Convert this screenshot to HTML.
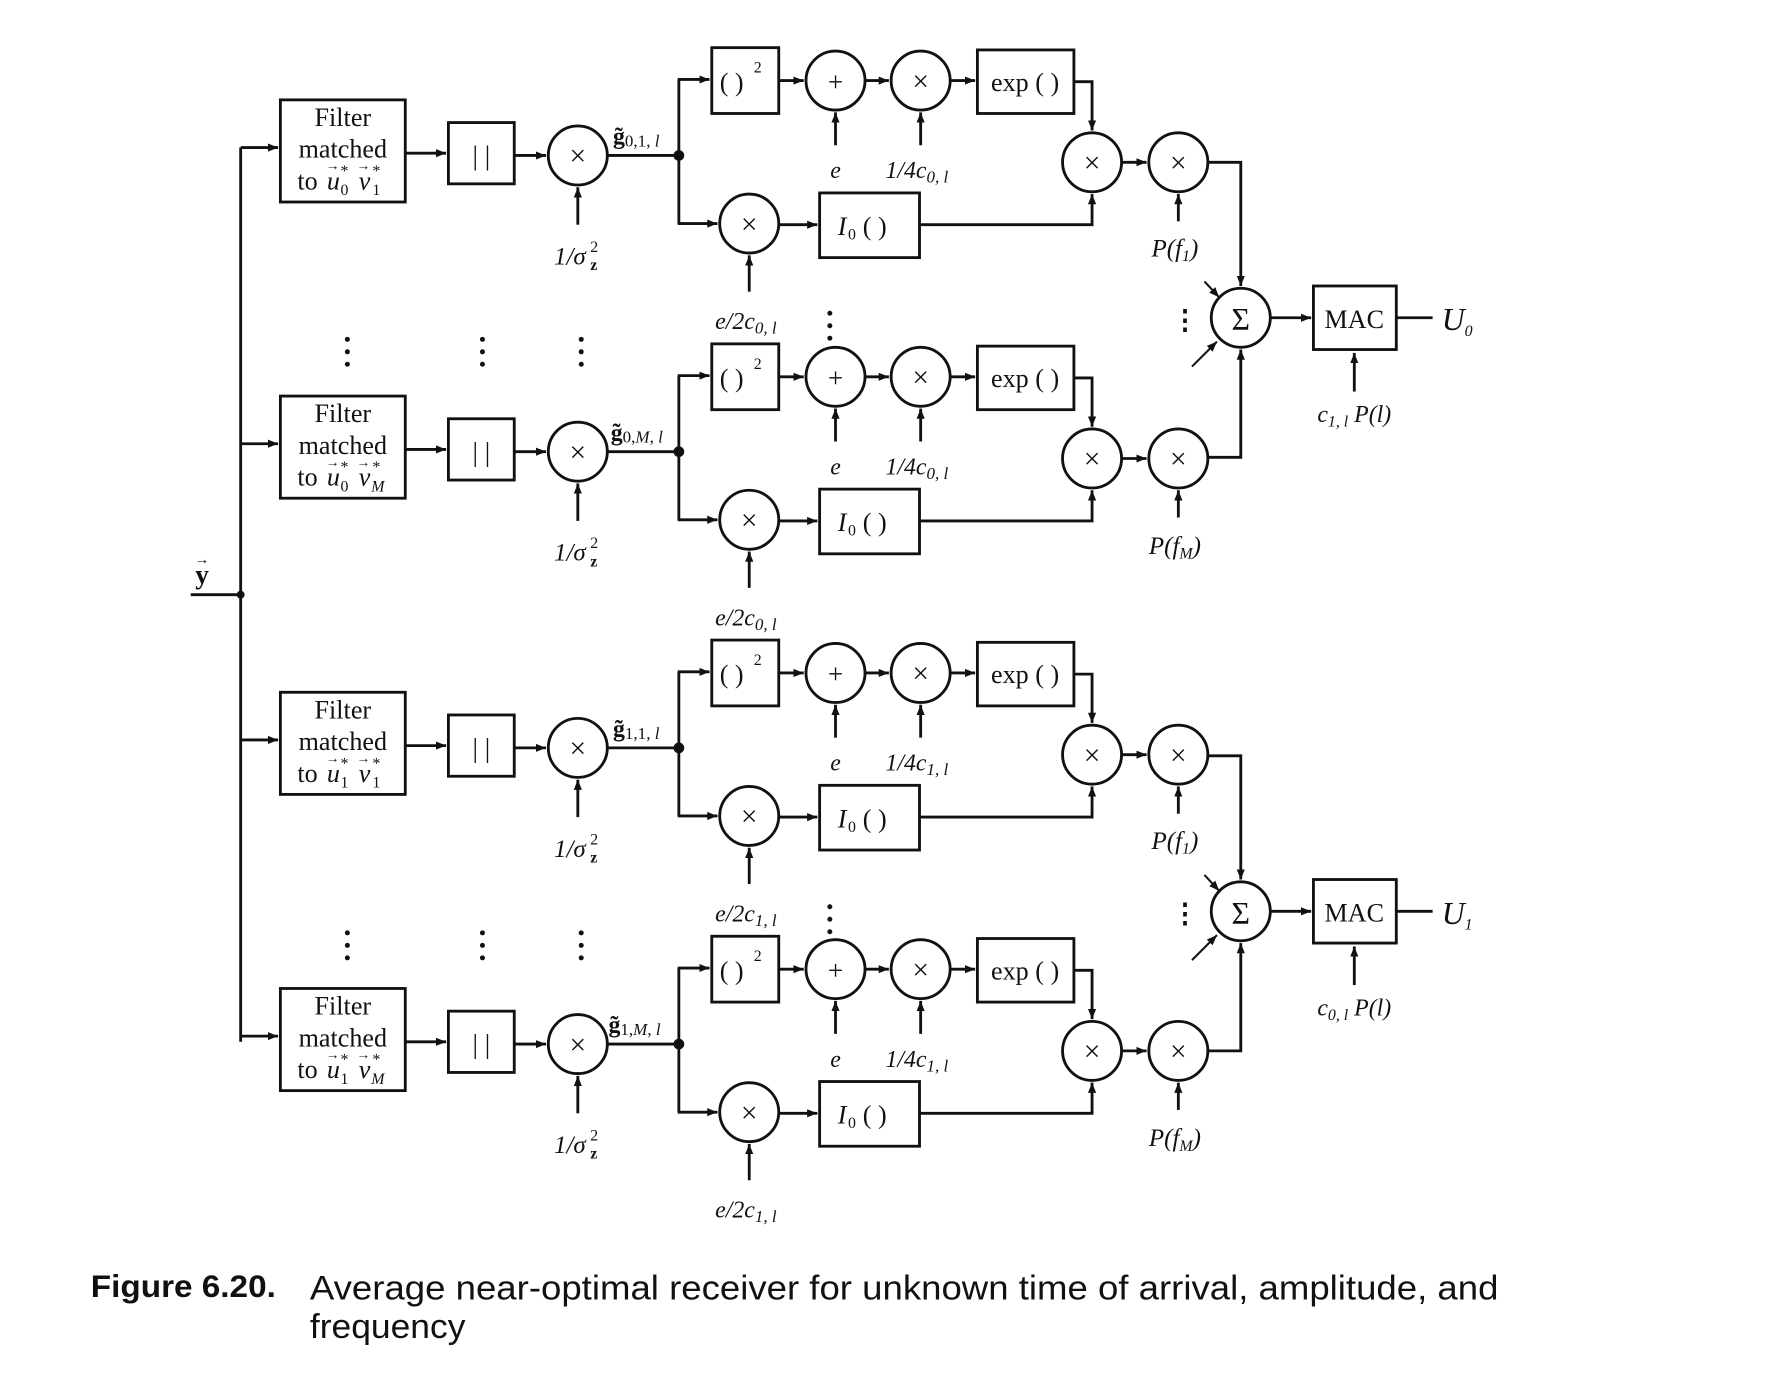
<!DOCTYPE html>
<html><head><meta charset="utf-8"><style>
html,body{margin:0;padding:0;background:#fff;}
svg{display:block;}
.s{font-family:"Liberation Serif",serif;fill:#111;}
.i{font-family:"Liberation Serif",serif;font-style:italic;fill:#111;}
.c{font-family:"Liberation Sans",sans-serif;fill:#111;}
</style></head><body>
<svg width="1780" height="1380" viewBox="0 0 1568 1216" preserveAspectRatio="none" xmlns="http://www.w3.org/2000/svg">
<defs>
<marker id="a" viewBox="0 0 10 10" refX="10" refY="5" markerWidth="9" markerHeight="9" markerUnits="userSpaceOnUse" orient="auto">
<path d="M0,1 L10,5 L0,9 z" fill="#111"/></marker>
<g id="row" stroke="#111" stroke-width="2.5" fill="none">
<line x1="212" y1="130" x2="245" y2="130" marker-end="url(#a)"/>
<rect x="247" y="88" width="110" height="90"/>
<line x1="357" y1="135" x2="393" y2="135" marker-end="url(#a)"/>
<rect x="395" y="108" width="58" height="54"/>
<line x1="453" y1="137" x2="481" y2="137" marker-end="url(#a)"/>
<circle cx="509" cy="137" r="26"/>
<line x1="509" y1="198" x2="509" y2="165" marker-end="url(#a)"/>
<line x1="535" y1="137" x2="598" y2="137"/>
<circle cx="598" cy="137" r="3.5" fill="#111"/>
<line x1="598" y1="70" x2="598" y2="197"/>
<line x1="597" y1="70" x2="625" y2="70" marker-end="url(#a)"/>
<line x1="597" y1="197" x2="632" y2="197" marker-end="url(#a)"/>
<rect x="627" y="42" width="59" height="58"/>
<line x1="686" y1="71" x2="708" y2="71" marker-end="url(#a)"/>
<circle cx="736" cy="71" r="26"/>
<line x1="736" y1="128" x2="736" y2="99" marker-end="url(#a)"/>
<line x1="762" y1="71" x2="783" y2="71" marker-end="url(#a)"/>
<circle cx="811" cy="71" r="26"/>
<line x1="811" y1="128" x2="811" y2="99" marker-end="url(#a)"/>
<line x1="837" y1="71" x2="859" y2="71" marker-end="url(#a)"/>
<rect x="861" y="44" width="85" height="56"/>
<polyline points="946,72 962,72 962,115" marker-end="url(#a)"/>
<circle cx="660" cy="197" r="26"/>
<line x1="660" y1="257" x2="660" y2="225" marker-end="url(#a)"/>
<line x1="686" y1="198" x2="720" y2="198" marker-end="url(#a)"/>
<rect x="722" y="170" width="88" height="57"/>
<polyline points="810,198 962,198 962,171" marker-end="url(#a)"/>
<circle cx="962" cy="143" r="26"/>
<line x1="988" y1="143" x2="1010" y2="143" marker-end="url(#a)"/>
<circle cx="1038" cy="143" r="26"/>
<line x1="1038" y1="195" x2="1038" y2="171" marker-end="url(#a)"/>
</g>
<g id="rowt">
<text class="s" x="302" y="111" font-size="23" text-anchor="middle">Filter</text>
<text class="s" x="302" y="139" font-size="23" text-anchor="middle">matched</text>
<text class="s" x="262" y="167" font-size="23">to</text>
<text class="i" x="288" y="167" font-size="23">u</text>
<text class="i" x="316" y="167" font-size="23">v</text>
<text class="s" x="287" y="150" font-size="12">→</text>
<text class="s" x="314" y="150" font-size="12">→</text>
<text class="s" x="300" y="155" font-size="14">*</text>
<text class="s" x="328" y="155" font-size="14">*</text>
<text class="s" x="424" y="145" font-size="24" text-anchor="middle">| |</text>
<text class="s" x="509" y="146" font-size="26" text-anchor="middle">×</text>
<text class="i" x="488" y="233" font-size="22">1/σ</text><text class="s" x="520" y="222" font-size="14">2</text><text class="s" x="520" y="238" font-size="14" font-weight="bold">z</text>
<text class="s" x="634" y="80" font-size="23">( )</text><text class="s" x="664" y="64" font-size="14">2</text>
<text class="s" x="736" y="80" font-size="24" text-anchor="middle">+</text>
<text class="s" x="811" y="80" font-size="26" text-anchor="middle">×</text>
<text class="s" x="903" y="80" font-size="23" text-anchor="middle">exp ( )</text>
<text class="i" x="736" y="157" font-size="21" text-anchor="middle">e</text>
<text class="s" x="660" y="206" font-size="26" text-anchor="middle">×</text>
<text class="i" x="738" y="207" font-size="23">I</text><text class="s" x="747" y="211" font-size="14">0</text><text class="s" x="760" y="207" font-size="23">( )</text>
<text class="s" x="962" y="152" font-size="26" text-anchor="middle">×</text>
<text class="s" x="1038" y="152" font-size="26" text-anchor="middle">×</text>
</g>
<g id="sum" stroke="#111" stroke-width="2.5" fill="none">
<polyline points="1064,143 1093,143 1093,252" marker-end="url(#a)"/>
<polyline points="1064,403 1093,403 1093,308" marker-end="url(#a)"/>
<circle cx="1093" cy="280" r="26"/>
<line x1="1061" y1="248" x2="1074" y2="262" stroke-width="1.8" marker-end="url(#a)"/>
<line x1="1050" y1="323" x2="1072" y2="301" stroke-width="1.8" marker-end="url(#a)"/>
<line x1="1119" y1="280" x2="1155" y2="280" marker-end="url(#a)"/>
<rect x="1157" y="252" width="73" height="56"/>
<line x1="1230" y1="280" x2="1262" y2="280"/>
<line x1="1193" y1="345" x2="1193" y2="311" marker-end="url(#a)"/>
</g>
<g id="sumt">
<text class="s" x="1093" y="291" font-size="28" text-anchor="middle">Σ</text>
<text class="s" x="1044" y="290" font-size="24" text-anchor="middle" font-weight="bold">⋮</text>
<text class="s" x="1193" y="289" font-size="23" text-anchor="middle">MAC</text>
</g>
</defs>

<!-- input -->
<text class="s" x="178" y="514" font-size="24" font-weight="bold" text-anchor="middle">y</text>
<text class="s" x="178" y="497" font-size="13" text-anchor="middle">→</text>
<g stroke="#111" stroke-width="2.5" fill="none">
<line x1="168" y1="524" x2="212" y2="524"/>
<line x1="212" y1="130" x2="212" y2="918"/>
</g>
<circle cx="212" cy="524" r="3.5" fill="#111"/>

<use href="#row"/><use href="#rowt"/>
<use href="#row" y="261"/><use href="#rowt" y="261"/>
<use href="#row" y="522"/><use href="#rowt" y="522"/>
<use href="#row" y="783"/><use href="#rowt" y="783"/>
<use href="#sum"/><use href="#sumt"/>
<use href="#sum" y="523"/><use href="#sumt" y="523"/>

<!-- filter subscripts -->
<text class="s" x="300" y="172" font-size="14">0</text><text class="s" x="328" y="172" font-size="14">1</text>
<text class="s" x="300" y="433" font-size="14">0</text><text class="i" x="327" y="433" font-size="14">M</text>
<text class="s" x="300" y="694" font-size="14">1</text><text class="s" x="328" y="694" font-size="14">1</text>
<text class="s" x="300" y="955" font-size="14">1</text><text class="i" x="327" y="955" font-size="14">M</text>

<!-- g labels -->
<text class="s" x="540" y="127" font-size="21" font-weight="bold">g̃<tspan font-weight="normal" font-size="15" dy="2">0,1,</tspan><tspan class="i" font-weight="normal" font-size="15"> l</tspan></text>
<text class="s" x="538" y="388" font-size="21" font-weight="bold">g̃<tspan font-weight="normal" font-size="15" dy="2">0,</tspan><tspan class="i" font-weight="normal" font-size="15">M</tspan><tspan font-weight="normal" font-size="15">,</tspan><tspan class="i" font-weight="normal" font-size="15"> l</tspan></text>
<text class="s" x="540" y="649" font-size="21" font-weight="bold">g̃<tspan font-weight="normal" font-size="15" dy="2">1,1,</tspan><tspan class="i" font-weight="normal" font-size="15"> l</tspan></text>
<text class="s" x="536" y="910" font-size="21" font-weight="bold">g̃<tspan font-weight="normal" font-size="15" dy="2">1,</tspan><tspan class="i" font-weight="normal" font-size="15">M</tspan><tspan font-weight="normal" font-size="15">,</tspan><tspan class="i" font-weight="normal" font-size="15"> l</tspan></text>

<!-- 1/4c labels -->
<text class="i" x="780" y="157" font-size="21">1/4c<tspan class="s" font-size="15" dy="4">0,</tspan><tspan font-size="15"> l</tspan></text>
<text class="i" x="780" y="418" font-size="21">1/4c<tspan class="s" font-size="15" dy="4">0,</tspan><tspan font-size="15"> l</tspan></text>
<text class="i" x="780" y="679" font-size="21">1/4c<tspan class="s" font-size="15" dy="4">1,</tspan><tspan font-size="15"> l</tspan></text>
<text class="i" x="780" y="940" font-size="21">1/4c<tspan class="s" font-size="15" dy="4">1,</tspan><tspan font-size="15"> l</tspan></text>

<!-- e/2c labels -->
<text class="i" x="630" y="290" font-size="21">e/2c<tspan class="s" font-size="15" dy="4">0,</tspan><tspan font-size="15"> l</tspan></text>
<text class="i" x="630" y="551" font-size="21">e/2c<tspan class="s" font-size="15" dy="4">0,</tspan><tspan font-size="15"> l</tspan></text>
<text class="i" x="630" y="812" font-size="21">e/2c<tspan class="s" font-size="15" dy="4">1,</tspan><tspan font-size="15"> l</tspan></text>
<text class="i" x="630" y="1073" font-size="21">e/2c<tspan class="s" font-size="15" dy="4">1,</tspan><tspan font-size="15"> l</tspan></text>

<!-- P(f) labels -->
<text class="i" x="1035" y="226" font-size="22" text-anchor="middle">P(f<tspan class="s" font-size="14" dy="4">1</tspan><tspan dy="-4">)</tspan></text>
<text class="i" x="1035" y="488" font-size="22" text-anchor="middle">P(f<tspan font-size="14" dy="4">M</tspan><tspan dy="-4">)</tspan></text>
<text class="i" x="1035" y="748" font-size="22" text-anchor="middle">P(f<tspan class="s" font-size="14" dy="4">1</tspan><tspan dy="-4">)</tspan></text>
<text class="i" x="1035" y="1010" font-size="22" text-anchor="middle">P(f<tspan font-size="14" dy="4">M</tspan><tspan dy="-4">)</tspan></text>

<!-- MAC inputs & outputs -->
<text class="i" x="1193" y="372" font-size="21" text-anchor="middle">c<tspan class="s" font-size="14" dy="4">1,</tspan><tspan font-size="14"> l</tspan><tspan dy="-4"> P(l)</tspan></text>
<text class="i" x="1193" y="895" font-size="21" text-anchor="middle">c<tspan class="s" font-size="14" dy="4">0,</tspan><tspan font-size="14"> l</tspan><tspan dy="-4"> P(l)</tspan></text>
<text class="i" x="1270" y="291" font-size="28">U<tspan class="s" font-size="14" dy="5">0</tspan></text>
<text class="i" x="1270" y="814" font-size="28">U<tspan class="s" font-size="14" dy="5">1</tspan></text>

<!-- vertical dots -->
<g fill="#111">
<circle cx="306" cy="299" r="2.2"/><circle cx="306" cy="310" r="2.2"/><circle cx="306" cy="321" r="2.2"/>
<circle cx="425" cy="299" r="2.2"/><circle cx="425" cy="310" r="2.2"/><circle cx="425" cy="321" r="2.2"/>
<circle cx="512" cy="299" r="2.2"/><circle cx="512" cy="310" r="2.2"/><circle cx="512" cy="321" r="2.2"/>
<circle cx="731" cy="276" r="2.2"/><circle cx="731" cy="287" r="2.2"/><circle cx="731" cy="298" r="2.2"/>
<circle cx="306" cy="822" r="2.2"/><circle cx="306" cy="833" r="2.2"/><circle cx="306" cy="844" r="2.2"/>
<circle cx="425" cy="822" r="2.2"/><circle cx="425" cy="833" r="2.2"/><circle cx="425" cy="844" r="2.2"/>
<circle cx="512" cy="822" r="2.2"/><circle cx="512" cy="833" r="2.2"/><circle cx="512" cy="844" r="2.2"/>
<circle cx="731" cy="799" r="2.2"/><circle cx="731" cy="810" r="2.2"/><circle cx="731" cy="821" r="2.2"/>
</g>

<!-- caption -->
<text class="c" x="80" y="1143" font-size="28" font-weight="bold" textLength="163" lengthAdjust="spacingAndGlyphs">Figure 6.20.</text>
<text class="c" x="273" y="1145" font-size="30" textLength="1047" lengthAdjust="spacingAndGlyphs">Average near-optimal receiver for unknown time of arrival, amplitude, and</text>
<text class="c" x="273" y="1179" font-size="30" textLength="137" lengthAdjust="spacingAndGlyphs">frequency</text>
</svg>
</body></html>
